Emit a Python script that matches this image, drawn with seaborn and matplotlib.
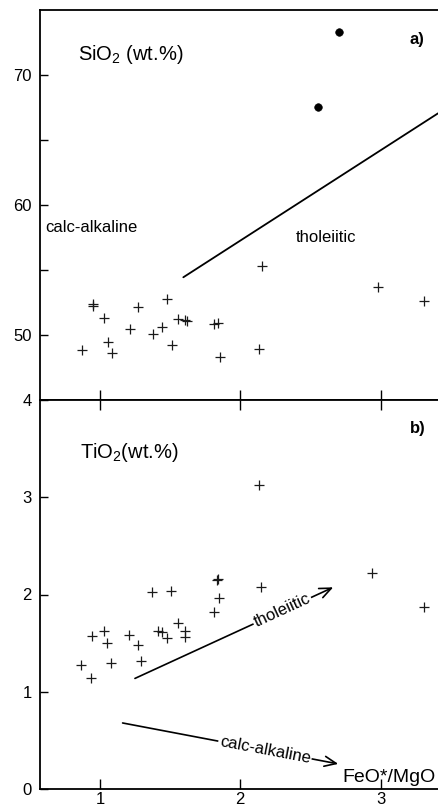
import numpy as np
import pandas as pd
import seaborn as sns
import matplotlib
matplotlib.use("Agg")
import matplotlib.pyplot as plt

# ---- data ----
fm_si = [0.874, 0.948, 0.948, 1.031, 1.055, 1.083, 1.214, 1.273, 1.376, 1.444,
         1.480, 1.511, 1.558, 1.606, 1.622, 1.813, 1.839, 1.855, 2.136, 2.155,
         2.984, 3.312]
sio2 = [48.85, 52.38, 52.23, 51.28, 49.48, 48.64, 50.44, 52.18, 50.08, 50.59,
        52.77, 49.23, 51.21, 51.15, 51.10, 50.82, 50.95, 48.33, 48.95, 55.30,
        53.72, 52.64]
fm_si_dots = [2.551, 2.706]
sio2_dots = [67.56, 73.28]

fm_ti = [0.865, 0.938, 0.943, 1.026, 1.052, 1.076, 1.209, 1.273, 1.290, 1.368,
         1.416, 1.440, 1.478, 1.506, 1.554, 1.606, 1.606, 1.813, 1.831, 1.843,
         1.851, 2.131, 2.147, 2.941, 3.312]
tio2 = [1.272, 1.137, 1.569, 1.620, 1.506, 1.293, 1.582, 1.482, 1.316, 2.024,
        1.620, 1.610, 1.551, 2.034, 1.703, 1.627, 1.558, 1.817, 2.151, 2.161,
        1.965, 3.126, 2.080, 2.225, 1.868]

divide_x = [1.594, 3.41]
divide_y = [54.44, 67.05]

thol_arrow = [(1.249, 1.137), (2.663, 2.074)]
calc_arrow = [(1.161, 0.679), (2.699, 0.258)]

xticks = [1, 2, 3]
si_ticks = [50, 55, 60, 65, 70]
si_ticklabels = ["50", "", "60", "", "70"]
ti_ticks = [0, 1, 2, 3, 4]

# ---- styling ----
sns.set_theme(style="white")
plt.rcParams["font.family"] = ["Liberation Sans", "DejaVu Sans"]
plt.rcParams["mathtext.fontset"] = "custom"
plt.rcParams["mathtext.rm"] = "Liberation Sans"
plt.rcParams["mathtext.it"] = "Liberation Sans"
plt.rcParams["mathtext.bf"] = "Liberation Sans:bold"
plt.rcParams["axes.linewidth"] = 1.3
plt.rcParams["axes.edgecolor"] = "black"
plt.rcParams["text.color"] = "black"
plt.rcParams["xtick.color"] = "black"
plt.rcParams["ytick.color"] = "black"
plt.rcParams["xtick.labelcolor"] = "black"
plt.rcParams["ytick.labelcolor"] = "black"

W, H = 438, 809
fig = plt.figure(figsize=(W / 100, H / 100), dpi=100)
left = 40 / W
ax1 = fig.add_axes([left, (H - 400) / H, 1 - left, 390 / H])
ax2 = fig.add_axes([left, (H - 789) / H, 1 - left, 389 / H])

xlim = (0.572, 3.41)
cross_kw = dict(marker="+", s=60, color="#1a1a1a", linewidth=0.9, legend=False)

# ---- panel a ----
df_si = pd.DataFrame({"fm": fm_si, "si": sio2})
df_dot = pd.DataFrame({"fm": fm_si_dots, "si": sio2_dots})
sns.scatterplot(data=df_si, x="fm", y="si", ax=ax1, **cross_kw)
sns.scatterplot(data=df_dot, x="fm", y="si", ax=ax1, marker="o", s=30,
                color="black", edgecolor="black", legend=False)
sns.lineplot(x=divide_x, y=divide_y, ax=ax1, color="black", linewidth=1.3)
ax1.set_xlim(*xlim)
ax1.set_ylim(45, 75)
ax1.set_xticks(xticks)
ax1.set_xticklabels([])
ax1.set_yticks(si_ticks)
ax1.set_yticklabels(si_ticklabels)
ax1.tick_params(axis="x", direction="in", length=7, width=1, bottom=True, top=False)
ax1.tick_params(axis="y", direction="in", length=6, width=1, left=True,
                labelsize=12, pad=6)
ax1.spines["right"].set_visible(False)
ax1.set_xlabel("")
ax1.set_ylabel("")
ax1.text(0.843, 71.15, "SiO$_2$ (wt.%)", fontsize=14.5, ha="left", va="baseline")
ax1.text(3.21, 72.4, "a)", fontsize=12, fontweight="bold", ha="left", va="baseline")
ax1.text(0.608, 58.3, "calc-alkaline", fontsize=12, ha="left", va="center")
ax1.text(2.397, 57.5, "tholeiitic", fontsize=12, ha="left", va="center")

# ---- panel b ----
df_ti = pd.DataFrame({"fm": fm_ti, "ti": tio2})
sns.scatterplot(data=df_ti, x="fm", y="ti", ax=ax2, **cross_kw)
ax2.set_xlim(*xlim)
ax2.set_ylim(0, 4)
ax2.set_xticks(xticks)
ax2.set_yticks(ti_ticks)
ax2.tick_params(axis="x", direction="in", length=7, width=1, bottom=True, top=True,
                labelsize=12, pad=2.5)
ax2.tick_params(axis="y", direction="in", length=6, width=1, left=True,
                labelsize=12, pad=6)
ax2.spines["right"].set_visible(False)
ax2.set_xlabel("")
ax2.set_ylabel("")
ax2.text(0.857, 3.40, "TiO$_2$(wt.%)", fontsize=14.5, ha="left", va="baseline")
ax2.text(3.21, 3.66, "b)", fontsize=12, fontweight="bold", ha="left", va="baseline")
ax2.text(2.725, 0.072, "FeO*/MgO", fontsize=14, ha="left", va="baseline")


def arrow_with_label(ax, p0, p1, label, frac):
    ax.annotate("", xy=p1, xytext=p0,
                arrowprops=dict(arrowstyle="->,head_length=0.7,head_width=0.3",
                                color="black", lw=1.2, shrinkA=0, shrinkB=0))
    d0 = ax.transData.transform(p0)
    d1 = ax.transData.transform(p1)
    ang = np.degrees(np.arctan2(d1[1] - d0[1], d1[0] - d0[0]))
    cx = p0[0] + frac * (p1[0] - p0[0])
    cy = p0[1] + frac * (p1[1] - p0[1])
    ax.text(cx, cy, label, fontsize=12, rotation=ang, rotation_mode="anchor",
            ha="center", va="center", zorder=5,
            bbox=dict(facecolor="white", edgecolor="none", pad=1.0))


arrow_with_label(ax2, thol_arrow[0], thol_arrow[1], "tholeiitic", 0.743)
arrow_with_label(ax2, calc_arrow[0], calc_arrow[1], "calc-alkaline", 0.66)

fig.savefig("out.png", dpi=100)
